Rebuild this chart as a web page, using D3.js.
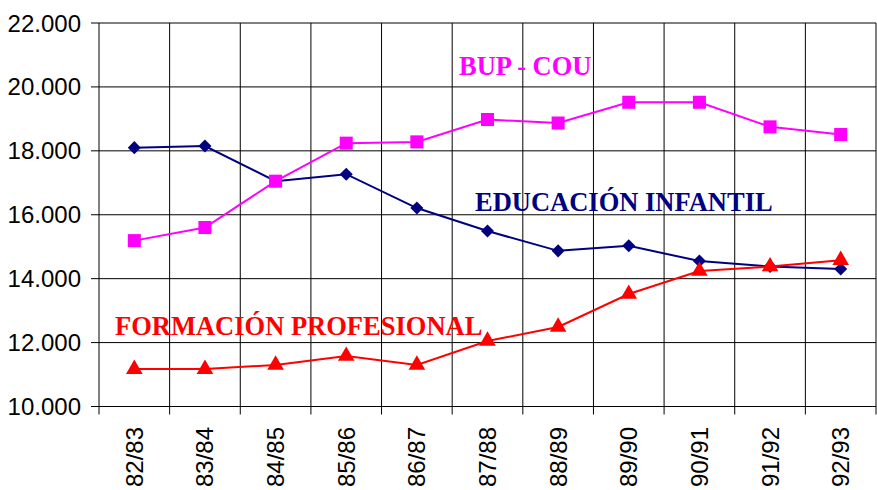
<!DOCTYPE html>
<html>
<head>
<meta charset="utf-8"/>
<script src="https://d3js.org/d3.v7.min.js"></script>
<style>
  body { margin: 0; background: #fff; }
  svg { display: block; }
</style>
</head>
<body>
<svg id="chart" width="877" height="490"></svg>
<script>
// school years
var cursos = ["82/83", "83/84", "84/85", "85/86", "86/87", "87/88", "88/89", "89/90", "90/91", "91/92", "92/93"];
// values
var infantil = [18100, 18150, 17050, 17270, 16210, 15490, 14870, 15030, 14550, 14380, 14300];
var bupCou = [15190, 15600, 17050, 18240, 18280, 18980, 18870, 19520, 19520, 18750, 18510];
var fp = [11170, 11170, 11300, 11580, 11300, 12050, 12490, 13520, 14240, 14380, 14580];
var yTicks = [10000, 12000, 14000, 16000, 18000, 20000, 22000];

var svg = d3.select("#chart");
var plotLeft = 99, plotRight = 876, plotTop = 23, plotBottom = 406.5;

var x = d3.scaleBand().domain(cursos).range([plotLeft, plotRight]);
var y = d3.scaleLinear().domain([10000, 22000]).range([plotBottom, plotTop]);
var fmt = function(d) { return d3.format(",")(d).replace(",", "."); };

// grid
svg.append("g").selectAll("line")
    .data(yTicks)
    .enter().append("line")
    .attr("x1", plotLeft - 8).attr("x2", plotRight)
    .attr("y1", d => y(d)).attr("y2", d => y(d))
    .attr("stroke", "#000").attr("stroke-width", 1);

var vlines = cursos.map(c => x(c)).concat([plotRight]);
svg.append("g").selectAll("line")
    .data(vlines)
    .enter().append("line")
    .attr("x1", d => d).attr("x2", d => d)
    .attr("y1", plotTop).attr("y2", plotBottom + 8)
    .attr("stroke", "#000").attr("stroke-width", 1);

// y labels
svg.append("g").selectAll("text")
    .data(yTicks)
    .enter().append("text")
    .attr("x", 81).attr("y", d => y(d) + 8.5)
    .attr("text-anchor", "end")
    .style("font-family", "Liberation Sans, Arial, sans-serif")
    .style("font-size", "24px")
    .text(fmt);

// x labels, rotated
svg.append("g").selectAll("text")
    .data(cursos)
    .enter().append("text")
    .attr("transform", d => "translate(" + (x(d) + x.bandwidth() / 2 + 8.5) + ",427) rotate(-90)")
    .attr("text-anchor", "end")
    .style("font-family", "Liberation Sans, Arial, sans-serif")
    .style("font-size", "24px")
    .text(d => d);

// diamond = square turned 45 degrees
var series = [
    { values: infantil, color: "#000080", shape: d3.symbolSquare, size: 85, rot: 45 },
    { values: bupCou, color: "#FF00FF", shape: d3.symbolSquare, size: 170, rot: 0 },
    { values: fp, color: "#FF0000", shape: d3.symbolTriangle, size: 120, rot: 0 }
];

var line = d3.line()
    .x((d, i) => x(cursos[i]) + x.bandwidth() / 2)
    .y(d => y(d));

series.forEach(function(s) {
    svg.append("path")
        .attr("d", line(s.values))
        .attr("fill", "none")
        .attr("stroke", s.color)
        .attr("stroke-width", 2);
    svg.append("g").selectAll("path")
        .data(s.values)
        .enter().append("path")
        .attr("transform", (d, i) => "translate(" + (x(cursos[i]) + x.bandwidth() / 2) + "," + y(d) + ") rotate(" + s.rot + ")")
        .attr("d", d3.symbol().type(s.shape).size(s.size))
        .attr("fill", s.color);
});

// series names
var names = [
    { text: "BUP - COU", x: 459, y: 75, color: "#FF00FF" },
    { text: "EDUCACIÓN INFANTIL", x: 475, y: 211, color: "#000080" },
    { text: "FORMACIÓN PROFESIONAL", x: 115, y: 335, color: "#FF0000" }
];
svg.append("g").selectAll("text")
    .data(names)
    .enter().append("text")
    .attr("x", d => d.x).attr("y", d => d.y)
    .attr("fill", d => d.color)
    .style("font-family", "Liberation Serif, Times New Roman, serif")
    .style("font-weight", "bold")
    .style("font-size", "26.5px")
    .text(d => d.text);
</script>
</body>
</html>
